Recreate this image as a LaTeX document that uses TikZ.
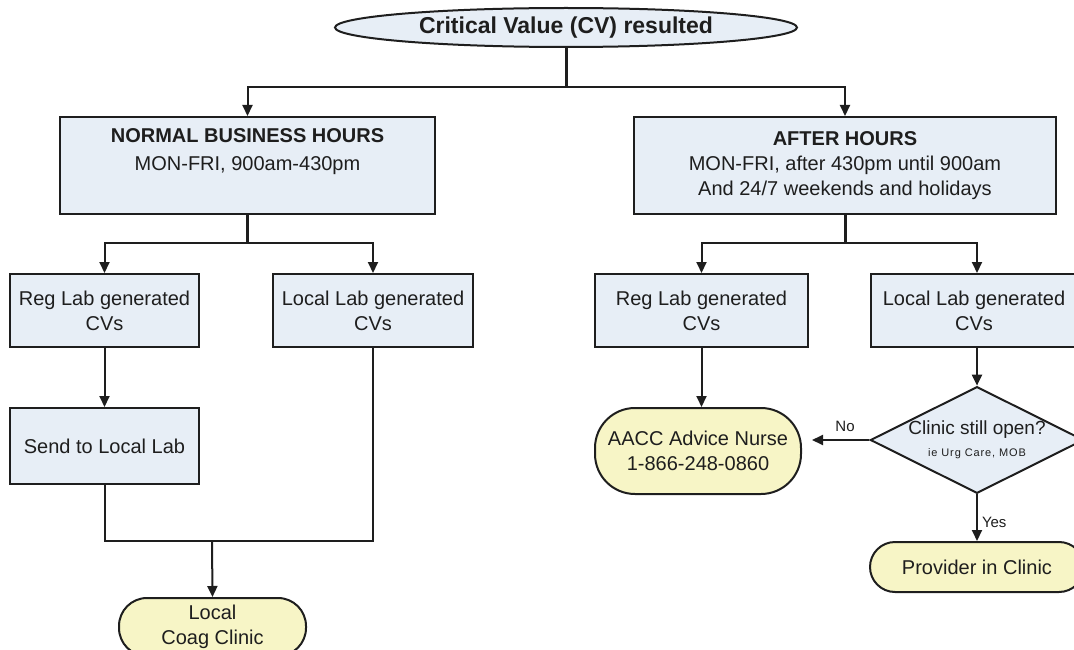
\documentclass[tikz,border=0pt]{standalone}
\usepackage{fontspec}
\setmainfont{Liberation Sans}
\usetikzlibrary{shapes.geometric,arrows.meta}
\definecolor{boxblue}{RGB}{231,238,246}
\definecolor{termyel}{RGB}{247,245,198}
\definecolor{ink}{RGB}{30,30,30}
\begin{document}
\begin{tikzpicture}[x=1pt,y=-1pt,
  txt/.style={font=\fontsize{20}{25}\selectfont, align=center, text=ink},
  procbox/.style={txt, rectangle, draw=ink, line width=2pt, fill=boxblue, inner sep=0pt},
  term/.style={txt, rectangle, draw=ink, line width=2pt, fill=termyel, inner sep=0pt},
  decision/.style={txt, diamond, aspect=2, draw=ink, line width=2pt, fill=boxblue, inner sep=0pt},
  line/.style={draw=ink, line width=2pt},
  stem/.style={draw=ink, line width=3pt},
  conn/.style={line, -{Triangle[length=11pt,width=10pt]}},
  lbl/.style={font=\fontsize{15}{17}\selectfont, text=ink, inner sep=1pt}
]
\useasboundingbox (0,0) rectangle (1074,650);

% top
\node[ellipse, draw=ink, line width=2pt, fill=boxblue, inner sep=0pt,
      minimum width=462pt, minimum height=39pt, text=ink,
      font=\bfseries\fontsize{23}{27}\selectfont] (cv) at (566,27.5) {Critical Value (CV) resulted};

% level 1
\node[procbox, minimum width=375pt, minimum height=97pt] (nbh) at (247.5,165.5)
  {\textbf{NORMAL BUSINESS HOURS}\\[3pt]MON-FRI, 900am-430pm\\\strut};
\node[procbox, minimum width=422pt, minimum height=97pt] (ah) at (845,165.5)
  {\textbf{AFTER HOURS}\\MON-FRI, after 430pm until 900am\\And 24/7 weekends and holidays};

% level 2
\node[procbox, minimum width=189pt, minimum height=73pt] (rl1) at (104.5,310.5) {Reg Lab generated\\CVs};
\node[procbox, minimum width=200pt, minimum height=73pt] (ll1) at (373,310.5) {Local Lab generated\\CVs};
\node[procbox, minimum width=213pt, minimum height=73pt] (rl2) at (701.5,310.5) {Reg Lab generated\\CVs};
\node[procbox, minimum width=206pt, minimum height=73pt] (ll2) at (974,310.5) {Local Lab generated\\CVs};

% level 3
\node[procbox, minimum width=189pt, minimum height=76pt] (send) at (104.5,446) {Send to Local Lab};
\node[term, minimum width=206pt, minimum height=86pt, rounded corners=40pt] (aacc) at (698,451) {AACC Advice Nurse\\1-866-248-0860};
\node[decision, minimum width=210pt, minimum height=106pt] (dia) at (977,440)
  {\fontsize{19}{21}\selectfont Clinic still open?\\[-3pt]{\fontsize{11}{12}\selectfont\addfontfeature{LetterSpace=8}ie Urg Care, MOB}};

% terminals
\node[term, minimum width=187pt, minimum height=58pt, rounded corners=28pt] (coag) at (212.5,627) {Local\\Coag Clinic};
\node[term, minimum width=214pt, minimum height=50pt, rounded corners=25pt] (prov) at (977,567) {Provider in Clinic};

% junctions
\coordinate (j1) at (566,87);
\coordinate (j2) at (247.5,243);
\coordinate (j4) at (845,243);
\coordinate (j3) at (212,541);

% connectors
\draw[stem] (cv.south) -- (j1);
\draw[conn] (j1) -| (nbh.north);
\draw[conn] (j1) -| (ah.north);

\draw[stem] (nbh.south) -- (j2);
\draw[conn] (j2) -| (rl1.north);
\draw[conn] (j2) -| (ll1.north);

\draw[stem] (ah.south) -- (j4);
\draw[conn] (j4) -| (rl2.north);
\draw[conn] (j4) -| (dia.north |- ll2.north);

\draw[conn] (rl1.south) -- (send.north);
\draw[line] (send.south) |- (j3) -| (ll1.south);
\draw[conn] (j3) -- (coag.north);

\draw[conn] (rl2.south) -- (rl2.south |- aacc.north);
\draw[conn] (dia.north |- ll2.south) -- (dia.north);
\draw[conn, shorten >=10pt] (dia.west) -- (dia.west -| aacc.east)
  node[lbl, pos=0.36, above=6pt] {No};
\draw[conn] (dia.south) -- (prov.north)
  node[lbl, pos=0.6, right=3pt] {Yes};
\end{tikzpicture}
\end{document}
